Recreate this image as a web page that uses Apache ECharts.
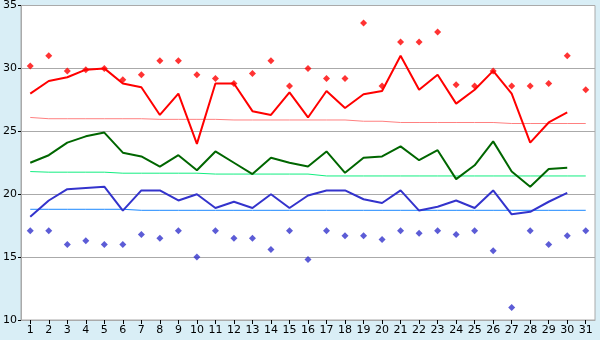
<!DOCTYPE html>
<html>
<head>
<meta charset="utf-8">
<script src="https://cdn.jsdelivr.net/npm/echarts@6/dist/echarts.min.js"></script>
<style>
html,body{margin:0;padding:0;background:#d9eef6;}
#c{width:600px;height:340px;}
</style>
</head>
<body>
<div id="c"></div>
<script>
var days = ['1','2','3','4','5','6','7','8','9','10','11','12','13','14','15','16','17','18','19','20','21','22','23','24','25','26','27','28','29','30','31'];
var yTicks = [10, 15, 20, 25, 30, 35];
var maxTemp = [28.0,29.0,29.3,29.9,30.0,28.8,28.5,26.3,28.0,24.0,28.8,28.8,26.6,26.3,28.1,26.1,28.2,26.85,27.95,28.2,31.0,28.3,29.5,27.2,28.3,29.8,28.0,24.1,25.7,26.5,null];
var meanTemp = [22.5,23.1,24.1,24.6,24.9,23.3,23.0,22.2,23.1,21.9,23.4,22.5,21.6,22.9,22.5,22.2,23.4,21.7,22.9,23.0,23.8,22.7,23.5,21.2,22.3,24.2,21.8,20.6,22.0,22.1,null];
var minTemp = [18.2,19.5,20.4,20.5,20.6,18.7,20.3,20.3,19.5,20.0,18.9,19.4,18.9,20.0,18.9,19.9,20.3,20.3,19.6,19.3,20.3,18.7,19.0,19.5,18.9,20.3,18.4,18.6,19.4,20.1,null];
var recordHigh = [30.2,31.0,29.8,29.9,30.0,29.1,29.5,30.6,30.6,29.5,29.2,28.8,29.6,30.6,28.6,30.0,29.2,29.2,33.6,28.6,32.1,32.1,32.9,28.7,28.6,29.8,28.6,28.6,28.8,31.0,28.3];
var recordLow = [17.1,17.1,16.0,16.3,16.0,16.0,16.8,16.5,17.1,15.0,17.1,16.5,16.5,15.6,17.1,14.8,17.1,16.7,16.7,16.4,17.1,16.9,17.1,16.8,17.1,15.5,11.0,17.1,16.0,16.7,17.1];
var normalMax = [26.1,26.0,26.0,26.0,26.0,26.0,26.0,25.95,25.95,25.95,25.95,25.9,25.9,25.9,25.9,25.9,25.9,25.9,25.8,25.8,25.7,25.7,25.7,25.7,25.7,25.7,25.62,25.62,25.62,25.62,25.62];
var normalMean = [21.8,21.75,21.75,21.75,21.75,21.67,21.67,21.67,21.67,21.67,21.6,21.6,21.6,21.6,21.6,21.6,21.45,21.45,21.45,21.45,21.45,21.45,21.45,21.45,21.45,21.45,21.45,21.45,21.45,21.45,21.45];
var normalMin = [18.8,18.8,18.8,18.8,18.8,18.8,18.72,18.72,18.72,18.72,18.72,18.72,18.72,18.72,18.72,18.72,18.72,18.72,18.72,18.72,18.72,18.72,18.72,18.72,18.72,18.72,18.72,18.72,18.72,18.72,18.72];

var chart = echarts.init(document.getElementById('c'), null, {renderer:'canvas'});
function lineS(data, color, width, z){
  return {type:'line', data:data, showSymbol:false, symbol:'none', z:z,
    lineStyle:{color:color, width:width}, itemStyle:{color:color}, animation:false, connectNulls:false};
}
chart.setOption({
  animation:false,
  backgroundColor:'#d9eef6',
  grid:{left:20, right:5, top:5, bottom:20, show:true, backgroundColor:'#ffffff', borderColor:'#aaaaaa', borderWidth:1},
  xAxis:{type:'category', data:days, boundaryGap:true,
    axisLine:{lineStyle:{color:'#aaaaaa'}},
    axisTick:{show:true, alignWithLabel:true, interval:0, length:4, lineStyle:{color:'#000'}},
    axisLabel:{interval:0, color:'#000', fontFamily:'DejaVu Sans', fontSize:11, margin:5},
    splitLine:{show:false}},
  yAxis:{type:'value', min:yTicks[0], max:yTicks[yTicks.length-1], interval:5,
    axisLine:{show:true, lineStyle:{color:'#aaaaaa'}},
    axisTick:{show:true, length:3, lineStyle:{color:'#000'}},
    axisLabel:{color:'#000', fontFamily:'DejaVu Sans', fontSize:11, margin:4, padding:[3,0,0,0]},
    splitLine:{show:true, lineStyle:{color:'#aaaaaa', width:1}}},
  series:[
    lineS(normalMax, '#ff8080', 1, 2),
    lineS(normalMean, '#11ee80', 1, 2),
    lineS(normalMin, '#1a88ff', 1, 2),
    lineS(maxTemp, '#ff0000', 2, 3),
    lineS(meanTemp, '#006600', 2, 3),
    lineS(minTemp, '#3333cc', 2, 3),
    {type:'scatter', data:recordHigh, symbol:'diamond', symbolSize:7, itemStyle:{color:'#ff0000'}, z:4},
    {type:'scatter', data:recordLow, symbol:'diamond', symbolSize:7, itemStyle:{color:'#3333cc'}, z:4}
  ]
});
</script>
</body>
</html>
